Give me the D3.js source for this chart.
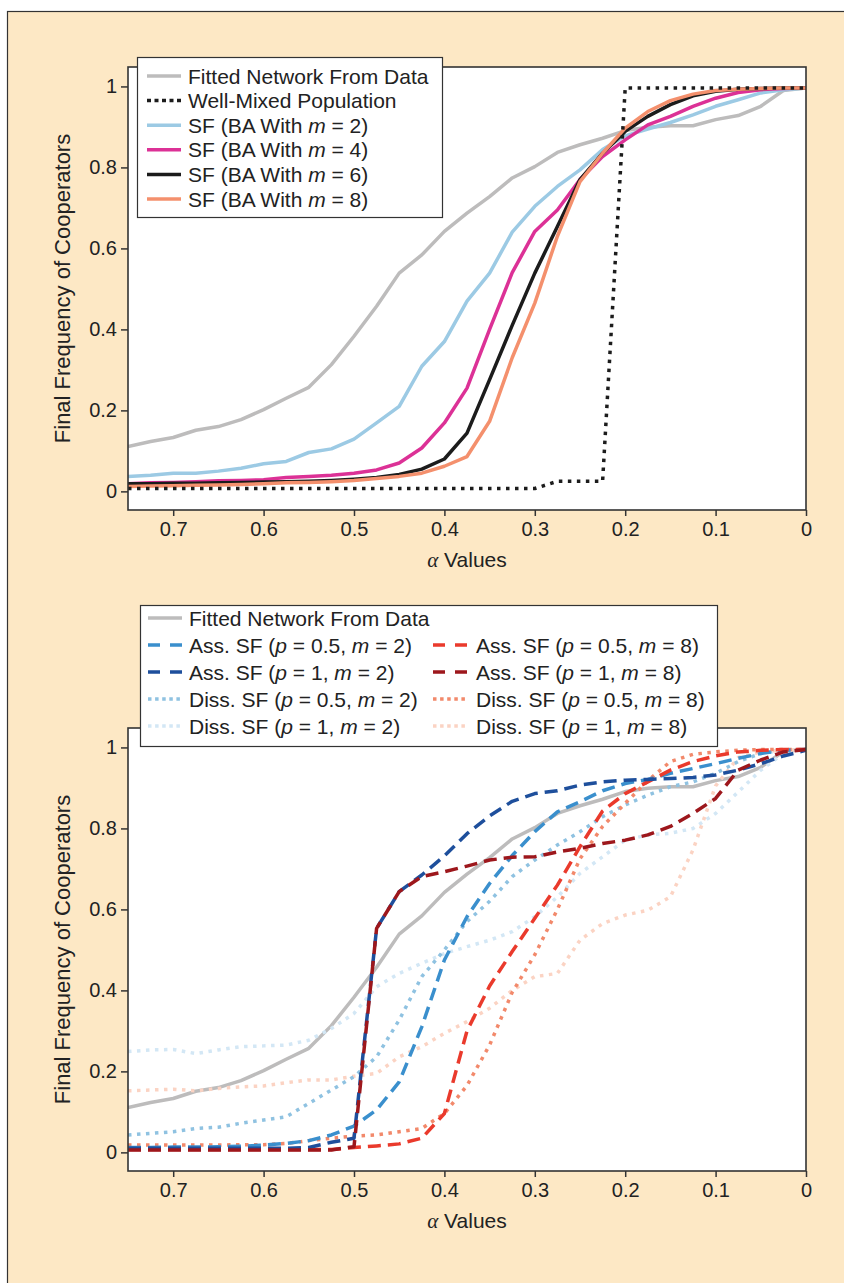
<!DOCTYPE html>
<html>
<head>
<meta charset="utf-8">
<script src="https://cdn.jsdelivr.net/npm/d3@7"></script>
<style>
  body { margin: 0; background: #fff; }
  text { font-family: "Liberation Sans", Arial, Helvetica, sans-serif; fill: #222; }
</style>
</head>
<body>
<div id="chart"></div>
<script>
// alpha values, shared by every series (x axis runs from 0.75 down to 0)
const alpha = [0.75, 0.725, 0.7, 0.675, 0.65, 0.625, 0.6, 0.575, 0.55, 0.525, 0.5,
  0.475, 0.45, 0.425, 0.4, 0.375, 0.35, 0.325, 0.3, 0.275, 0.25, 0.225, 0.2,
  0.175, 0.15, 0.125, 0.1, 0.075, 0.05, 0.025, 0];

// top panel
const fitted = [0.111, 0.123, 0.133, 0.151, 0.160, 0.177, 0.202, 0.230, 0.257, 0.313, 0.383,
  0.457, 0.539, 0.584, 0.642, 0.687, 0.728, 0.774, 0.802, 0.837, 0.856, 0.872, 0.891,
  0.899, 0.903, 0.903, 0.918, 0.928, 0.951, 0.990, 0.996];
const wellMixed = [0.007, 0.007, 0.007, 0.007, 0.007, 0.007, 0.007, 0.007, 0.007, 0.007, 0.007,
  0.007, 0.007, 0.007, 0.007, 0.007, 0.007, 0.007, 0.007, 0.025, 0.025, 0.025, 0.996,
  0.996, 0.996, 0.996, 0.996, 0.996, 0.996, 0.996, 0.996];
const sfM2 = [0.037, 0.040, 0.045, 0.045, 0.050, 0.057, 0.068, 0.074, 0.096, 0.105, 0.129,
  0.169, 0.210, 0.309, 0.370, 0.470, 0.539, 0.640, 0.704, 0.753, 0.794, 0.844, 0.878,
  0.895, 0.911, 0.930, 0.951, 0.967, 0.984, 0.992, 0.996];
const sfM4 = [0.019, 0.021, 0.022, 0.024, 0.026, 0.027, 0.029, 0.034, 0.037, 0.040, 0.045,
  0.053, 0.070, 0.107, 0.169, 0.255, 0.400, 0.540, 0.642, 0.695, 0.770, 0.827, 0.868,
  0.905, 0.926, 0.951, 0.971, 0.985, 0.992, 0.995, 0.996];
const sfM6 = [0.019, 0.019, 0.020, 0.020, 0.021, 0.022, 0.023, 0.024, 0.025, 0.027, 0.030,
  0.034, 0.042, 0.055, 0.080, 0.144, 0.276, 0.410, 0.539, 0.654, 0.770, 0.835, 0.889,
  0.926, 0.955, 0.977, 0.988, 0.993, 0.995, 0.996, 0.996];
const sfM8 = [0.012, 0.013, 0.014, 0.015, 0.016, 0.017, 0.019, 0.021, 0.022, 0.024, 0.027,
  0.032, 0.037, 0.045, 0.062, 0.086, 0.173, 0.330, 0.465, 0.630, 0.765, 0.835, 0.897,
  0.938, 0.965, 0.981, 0.990, 0.993, 0.995, 0.996, 0.996];

// bottom panel
const assP05M2 = [0.012, 0.012, 0.013, 0.013, 0.014, 0.015, 0.018, 0.022, 0.029, 0.043, 0.065,
  0.105, 0.174, 0.310, 0.475, 0.582, 0.664, 0.733, 0.792, 0.841, 0.866, 0.893, 0.911,
  0.921, 0.936, 0.948, 0.960, 0.973, 0.985, 0.993, 0.995];
const assP1M2 = [0.010, 0.010, 0.010, 0.010, 0.010, 0.010, 0.010, 0.010, 0.012, 0.025, 0.035,
  0.553, 0.644, 0.685, 0.732, 0.787, 0.831, 0.867, 0.886, 0.893, 0.907, 0.915, 0.919,
  0.921, 0.923, 0.926, 0.932, 0.944, 0.960, 0.979, 0.993];
const assP05M8 = [0.007, 0.007, 0.007, 0.007, 0.007, 0.007, 0.007, 0.007, 0.007, 0.007, 0.012,
  0.016, 0.021, 0.035, 0.096, 0.300, 0.411, 0.496, 0.578, 0.660, 0.755, 0.843, 0.886,
  0.915, 0.944, 0.965, 0.979, 0.989, 0.993, 0.995, 0.995];
const assP1M8 = [0.006, 0.006, 0.006, 0.006, 0.006, 0.006, 0.006, 0.006, 0.006, 0.006, 0.014,
  0.553, 0.644, 0.681, 0.693, 0.707, 0.722, 0.729, 0.730, 0.742, 0.751, 0.763, 0.771,
  0.784, 0.805, 0.837, 0.874, 0.944, 0.969, 0.989, 0.995];
const dissP05M2 = [0.043, 0.047, 0.051, 0.059, 0.062, 0.072, 0.080, 0.088, 0.121, 0.154, 0.187,
  0.236, 0.327, 0.434, 0.500, 0.570, 0.620, 0.681, 0.722, 0.759, 0.792, 0.829, 0.858,
  0.882, 0.903, 0.915, 0.936, 0.965, 0.985, 0.993, 0.995];
const dissP1M2 = [0.249, 0.253, 0.254, 0.244, 0.253, 0.261, 0.263, 0.265, 0.277, 0.306, 0.343,
  0.409, 0.442, 0.467, 0.491, 0.508, 0.524, 0.545, 0.582, 0.631, 0.689, 0.730, 0.771,
  0.784, 0.788, 0.800, 0.837, 0.890, 0.944, 0.985, 0.995];
const dissP05M8 = [0.018, 0.018, 0.018, 0.018, 0.018, 0.019, 0.019, 0.022, 0.029, 0.035, 0.040,
  0.043, 0.051, 0.059, 0.096, 0.165, 0.265, 0.395, 0.488, 0.600, 0.725, 0.805, 0.862,
  0.918, 0.965, 0.983, 0.989, 0.993, 0.995, 0.995, 0.995];
const dissP1M8 = [0.152, 0.154, 0.156, 0.152, 0.158, 0.162, 0.164, 0.172, 0.179, 0.179, 0.188,
  0.195, 0.236, 0.261, 0.294, 0.323, 0.356, 0.400, 0.434, 0.442, 0.524, 0.565, 0.586,
  0.598, 0.631, 0.747, 0.905, 0.975, 0.989, 0.993, 0.995];

const xTicks = [0.7, 0.6, 0.5, 0.4, 0.3, 0.2, 0.1, 0];
const yTicks = [0, 0.2, 0.4, 0.6, 0.8, 1];

const DOT = "3.5,5.5", DASH = "13,7";

const topSeries = [
  { label: "Fitted Network From Data", values: fitted, color: "#bdbcbc", dash: null },
  { label: "SF (BA With *m* = 2)", values: sfM2, color: "#9ccae4", dash: null },
  { label: "SF (BA With *m* = 4)", values: sfM4, color: "#dc3196", dash: null },
  { label: "SF (BA With *m* = 6)", values: sfM6, color: "#1c1c1c", dash: null },
  { label: "SF (BA With *m* = 8)", values: sfM8, color: "#f4906d", dash: null },
  { label: "Well-Mixed Population", values: wellMixed, color: "#1c1c1c", dash: DOT }
];
const topLegendOrder = [0, 5, 1, 2, 3, 4];

const botSeries = {
  fitted:    { label: "Fitted Network From Data", values: fitted, color: "#bdbcbc", dash: null },
  dissP1M2:  { label: "Diss. SF (*p* = 1, *m* = 2)", values: dissP1M2, color: "#d3e7f5", dash: DOT },
  dissP1M8:  { label: "Diss. SF (*p* = 1, *m* = 8)", values: dissP1M8, color: "#fbd3c3", dash: DOT },
  dissP05M2: { label: "Diss. SF (*p* = 0.5, *m* = 2)", values: dissP05M2, color: "#8fc2e1", dash: DOT },
  dissP05M8: { label: "Diss. SF (*p* = 0.5, *m* = 8)", values: dissP05M8, color: "#f2896b", dash: DOT },
  assP05M2:  { label: "Ass. SF (*p* = 0.5, *m* = 2)", values: assP05M2, color: "#3a8fcd", dash: DASH },
  assP05M8:  { label: "Ass. SF (*p* = 0.5, *m* = 8)", values: assP05M8, color: "#ea3a2c", dash: DASH },
  assP1M2:   { label: "Ass. SF (*p* = 1, *m* = 2)", values: assP1M2, color: "#1e4f9c", dash: DASH },
  assP1M8:   { label: "Ass. SF (*p* = 1, *m* = 8)", values: assP1M8, color: "#9d171c", dash: DASH }
};

const width = 844, height = 1283;
const svg = d3.select("#chart").append("svg")
  .attr("width", width).attr("height", height);

// peach panel with a dark edge at top and left
svg.append("rect")
  .attr("x", 7.5).attr("y", 11.5)
  .attr("width", width + 10).attr("height", height + 10)
  .attr("fill", "#fde8c5").attr("stroke", "#333").attr("stroke-width", 1.2);

const x = d3.scaleLinear().domain([0.75, 0]).range([128, 806]);

// writes "a *b* c" with the starred parts in italics
function richText(sel, str) {
  str.split("*").forEach((part, i) => {
    if (!part) return;
    sel.append("tspan").attr("font-style", i % 2 ? "italic" : null).text(part);
  });
}

function panel(top, bottom, series, id) {
  const y = d3.scaleLinear().domain([-0.046, 1.048]).range([bottom, top]);
  const g = svg.append("g");

  g.append("rect")
    .attr("x", x(0.75)).attr("y", top)
    .attr("width", x(0) - x(0.75)).attr("height", bottom - top)
    .attr("fill", "#fff");

  g.append("clipPath").attr("id", id)
    .append("rect")
    .attr("x", x(0.75)).attr("y", top)
    .attr("width", x(0) - x(0.75)).attr("height", bottom - top);

  const line = d3.line()
    .x((d, i) => x(alpha[i]))
    .y(d => y(d));

  g.append("g").attr("clip-path", `url(#${id})`)
    .selectAll("path")
    .data(series)
    .join("path")
    .attr("d", d => line(d.values))
    .attr("fill", "none")
    .attr("stroke", d => d.color)
    .attr("stroke-width", 3.5)
    .attr("stroke-dasharray", d => d.dash)
    .attr("stroke-linejoin", "round");

  const xAxis = g.append("g")
    .attr("transform", `translate(0,${bottom})`)
    .call(d3.axisBottom(x).tickValues(xTicks).tickFormat(d3.format("~g"))
      .tickSize(6).tickPadding(6));
  const yAxis = g.append("g")
    .attr("transform", `translate(${x(0.75)},0)`)
    .call(d3.axisLeft(y).tickValues(yTicks).tickFormat(d3.format("~g"))
      .tickSize(7).tickPadding(4));
  [xAxis, yAxis].forEach(a => {
    a.select(".domain").remove();
    a.selectAll(".tick line").attr("stroke", "#333").attr("stroke-width", 1.5);
    a.selectAll(".tick text").attr("font-size", 20).attr("fill", "#222")
      .style("font-family", '"Liberation Sans", Arial, sans-serif');
  });

  g.append("rect")
    .attr("x", x(0.75)).attr("y", top)
    .attr("width", x(0) - x(0.75)).attr("height", bottom - top)
    .attr("fill", "none").attr("stroke", "#333").attr("stroke-width", 1.6);

  g.append("text")
    .attr("transform", `translate(62,${(top + bottom) / 2}) rotate(-90)`)
    .attr("text-anchor", "middle").attr("dy", "0.35em")
    .attr("font-size", 22)
    .text("Final Frequency of Cooperators");

  const xl = g.append("text")
    .attr("x", (x(0.75) + x(0)) / 2).attr("y", bottom + 57)
    .attr("text-anchor", "middle").attr("font-size", 21);
  xl.append("tspan").attr("font-style", "italic")
    .style("font-family", '"Liberation Serif", "DejaVu Serif", serif').text("α");
  xl.append("tspan").text(" Values");
}

function legendRow(g, s, sx, tx, yy, dashLegend) {
  g.append("line")
    .attr("x1", sx).attr("x2", sx + 34).attr("y1", yy).attr("y2", yy)
    .attr("stroke", s.color).attr("stroke-width", 3.5)
    .attr("stroke-dasharray", s.dash ? dashLegend(s.dash) : null);
  const t = g.append("text").attr("x", tx).attr("y", yy).attr("dy", "0.36em")
    .attr("font-size", 21);
  richText(t, s.label);
}

// top chart
panel(67, 510, topSeries, "clipTop");
const lg1 = svg.append("g");
lg1.append("rect").attr("x", 137.5).attr("y", 57.5).attr("width", 305).attr("height", 160)
  .attr("fill", "#fff").attr("stroke", "#333").attr("stroke-width", 1.2);
topLegendOrder.forEach((k, i) => {
  legendRow(lg1, topSeries[k], 147, 188, 76 + i * 24.6, () => "4,3.5");
});

// bottom chart
const b = botSeries;
panel(728, 1171, [b.fitted, b.dissP1M2, b.dissP1M8, b.dissP05M2, b.dissP05M8,
  b.assP05M2, b.assP05M8, b.assP1M2, b.assP1M8], "clipBot");
const lg2 = svg.append("g");
lg2.append("rect").attr("x", 140.5).attr("y", 605.5).attr("width", 577).attr("height", 141)
  .attr("fill", "#fff").attr("stroke", "#333").attr("stroke-width", 1.2);
const legDash = d => d === DASH ? "12,10" : "3.5,3.6";
legendRow(lg2, b.fitted, 148, 189, 618, legDash);
[[b.assP05M2, b.assP05M8], [b.assP1M2, b.assP1M8],
 [b.dissP05M2, b.dissP05M8], [b.dissP1M2, b.dissP1M8]].forEach((pair, r) => {
  legendRow(lg2, pair[0], 148, 189, 645 + r * 27, legDash);
  legendRow(lg2, pair[1], 433, 476, 645 + r * 27, legDash);
});
</script>
</body>
</html>
